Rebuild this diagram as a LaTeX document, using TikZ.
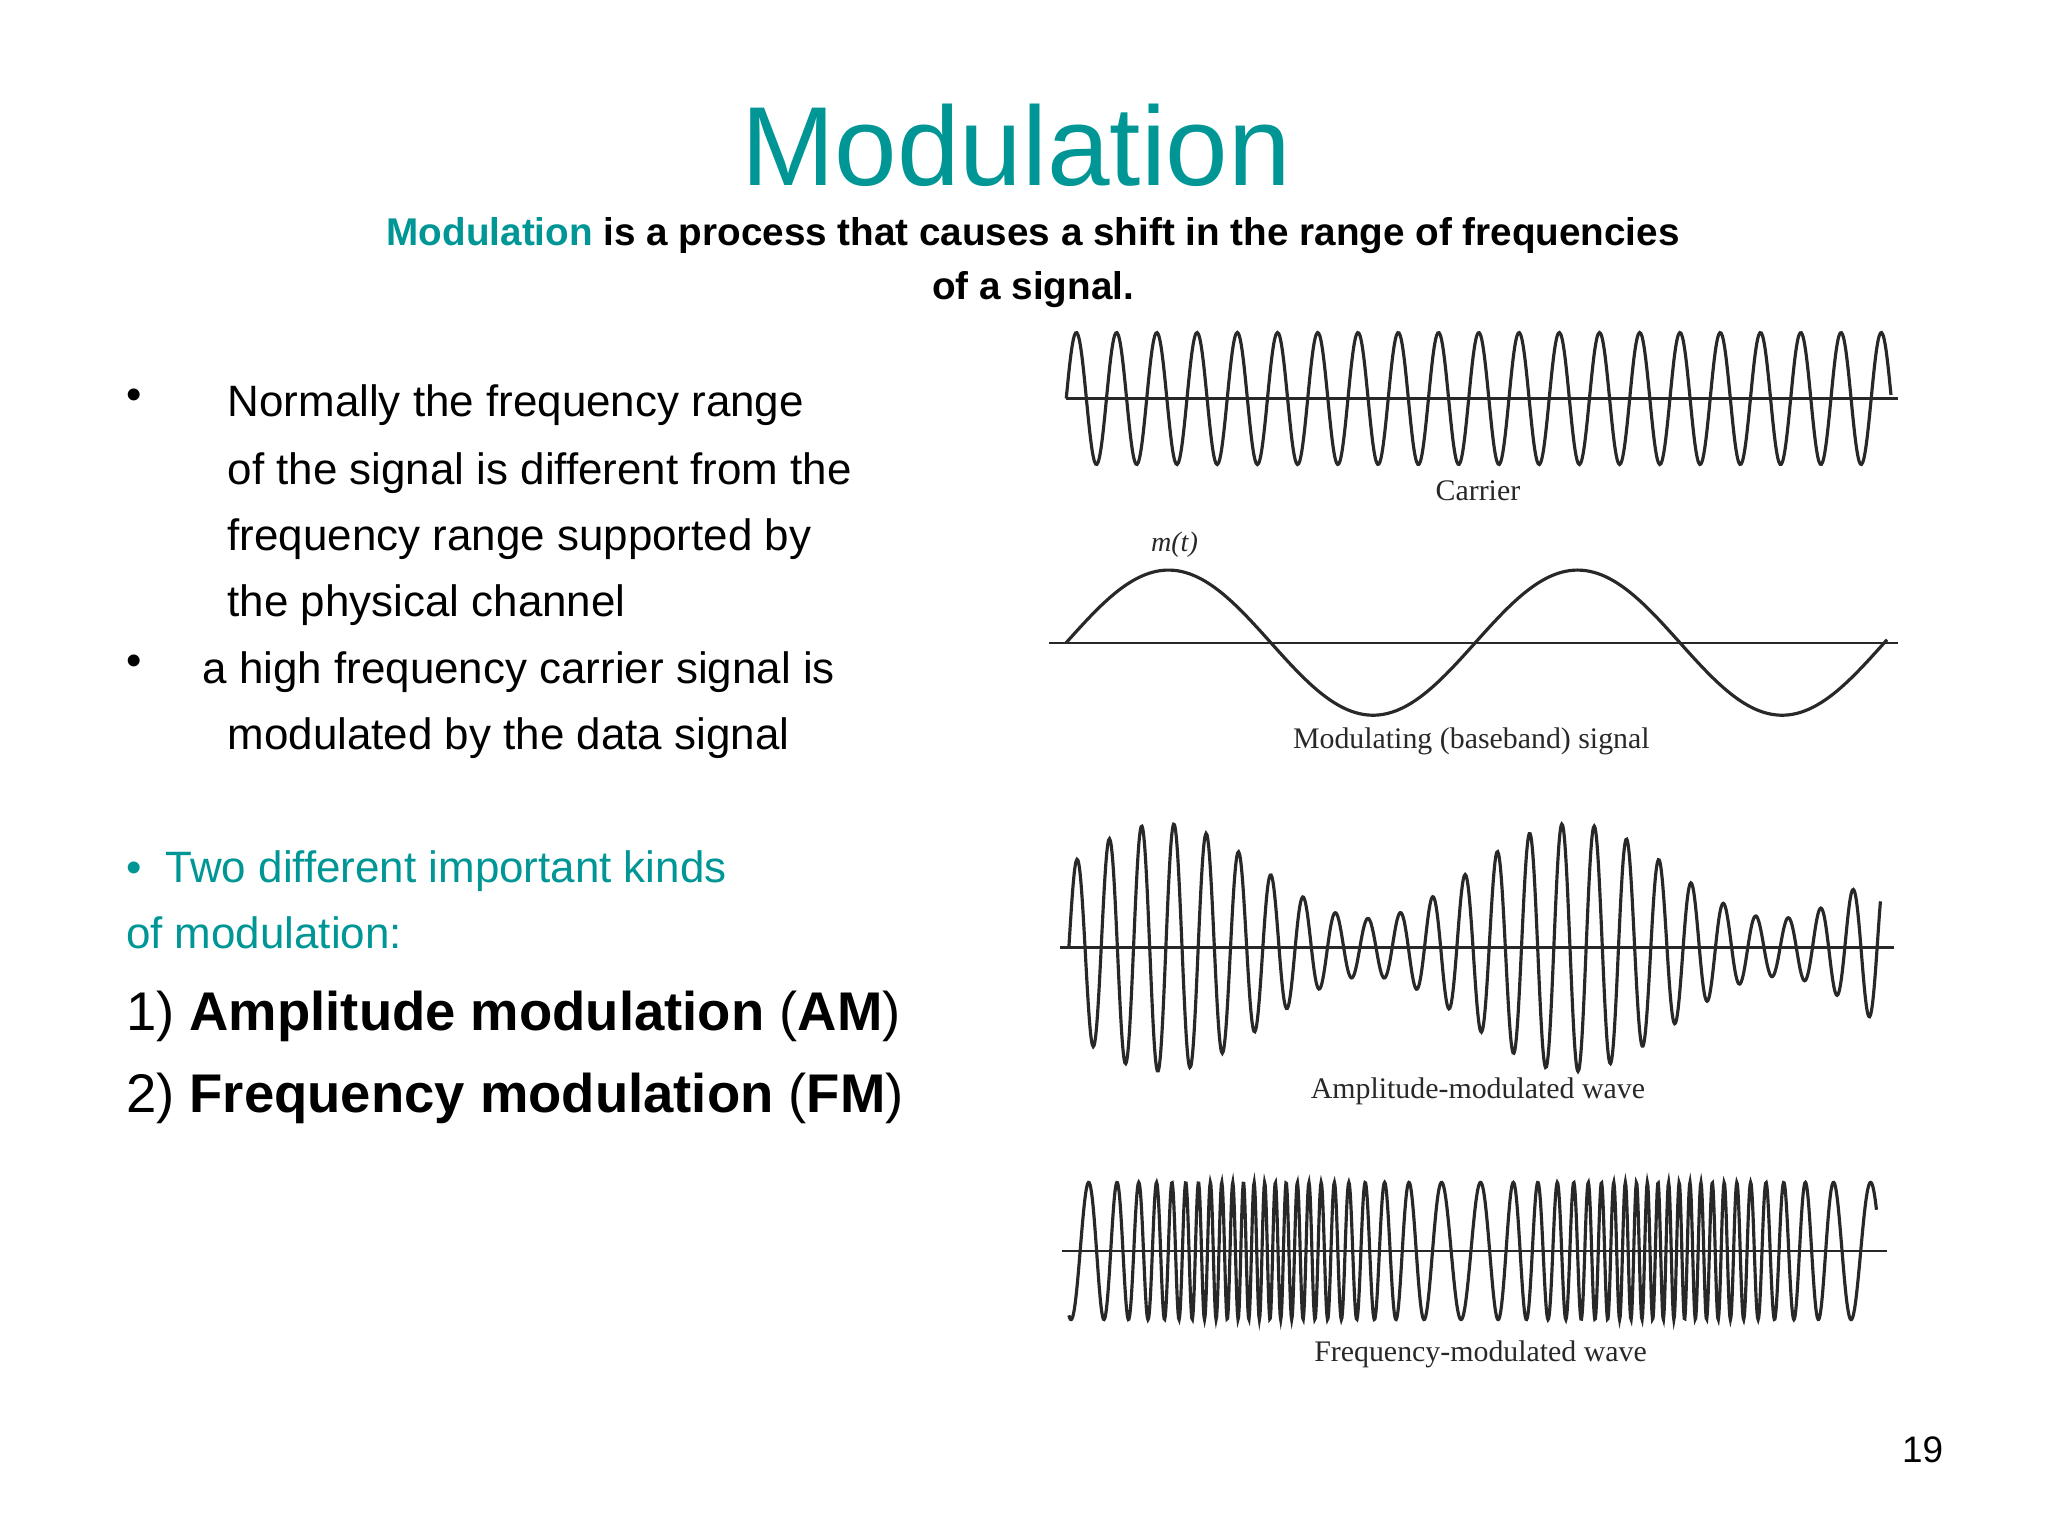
\documentclass[tikz,border=0pt]{standalone}
\usepackage{fontspec}
\setmainfont{Liberation Sans}
\newfontfamily\serifl{Liberation Serif}
\definecolor{teal1}{RGB}{0,150,150}
\definecolor{ink}{RGB}{40,40,40}
\begin{document}
\begin{tikzpicture}[x=0.013196cm,y=-0.013196cm,
  txt/.style={anchor=base west,inner sep=0pt,font=\fontsize{12.5}{14}\selectfont},
  big/.style={anchor=base west,inner sep=0pt,font=\fontsize{15.5}{18}\selectfont},
  lab/.style={inner sep=0pt,font=\serifl\fontsize{8.5}{10}\selectfont,text=ink},
  wave/.style={ink,line width=0.9pt},
  axisl/.style={ink,line width=0.6pt}]
\useasboundingbox (0,0) rectangle (1552,1164);
\node[inner sep=0pt,text=teal1,font=\fontsize{32}{36}\selectfont] (title) at (770,110) {Modulation};
\node[inner sep=0pt,align=center,font=\bfseries\fontsize{11}{15.5}\selectfont] (sub) at (783,199)
 {\textcolor{teal1}{Modulation} is a process that causes a shift in the range of frequencies\\ of a signal.};
% left text
\node[txt] (b1) at (95,310) {\textbullet};
\node[txt] (l1) at (172,316) {Normally the frequency range};
\node[txt] (l2) at (172,367) {of the signal is different from the};
\node[txt] (l3) at (172,417) {frequency range supported by};
\node[txt] (l4) at (172,467) {the physical channel};
\node[txt] (b2) at (95,512) {\textbullet};
\node[txt] (l5) at (153,518) {a high frequency carrier signal is};
\node[txt] (l6) at (172,568) {modulated by the data signal};
\node[txt,text=teal1] (l7) at (95,669) {\textbullet\ \ Two different important kinds};
\node[txt,text=teal1] (l8) at (95,719) {of modulation:};
\node[big] (am) at (95,781) {1) \textbf{Amplitude modulation} (\textbf{AM})};
\node[big] (fm) at (95,843) {2) \textbf{Frequency modulation} (\textbf{FM})};
\node[inner sep=0pt,font=\fontsize{10.5}{12}\selectfont] (pg) at (1457,1099) {19};
% carrier
\draw[axisl] (808,302) -- (1438,302);
\draw[wave] plot[domain=0:625,samples=700,smooth] ({808+\x},{302-50*sin(2*pi*\x/30.5 r)});
\node[lab] (c) at (1120,372) {Carrier};
% modulating
\draw[axisl] (795,487) -- (1438,487);
\draw[wave] plot[domain=0:622,samples=200,smooth] ({808+\x},{487-55*sin(2*pi*\x/310 r)});
\node[lab,font=\serifl\itshape\fontsize{8}{10}\selectfont] (mt) at (890,413) {m(t)};
\node[lab] (ms) at (1115,562) {Modulating (baseband) signal};
% AM
\draw[axisl] (803,718) -- (1435,718);
\draw[wave] plot[domain=0:615,samples=900,smooth] ({810+\x},{718-(58+36*sin(2*pi*(\x+6)/310 r))*sin(2*pi*\x/24.5 r)});
\node[lab] (amw) at (1120,827) {Amplitude-modulated wave};
% FM
\draw[axisl] (805,948) -- (1430,948);
\draw[wave] plot[domain=0:612,samples=1400] ({810+\x},{948-52*sin(mod(2*pi*0.079*\x + 14.2*(1-cos(2*pi*(\x-65)/310 r)),6.283185) r)});
\node[lab] (fmw) at (1122,1026) {Frequency-modulated wave};
\end{tikzpicture}
\end{document}
